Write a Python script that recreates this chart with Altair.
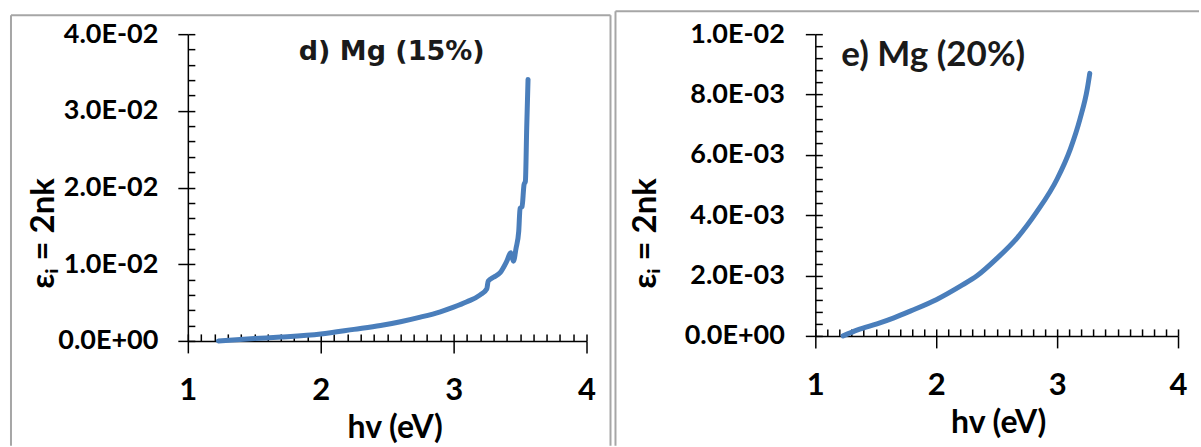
import altair as alt
import pandas as pd

# ---- data ----
# panel d) Mg (15%)
d_hv = [1.23, 1.50, 1.70, 2.00, 2.25, 2.45, 2.60, 2.75, 2.90, 3.00, 3.10, 3.20, 3.25,
        3.26, 3.30, 3.35, 3.40, 3.43, 3.45, 3.47, 3.49, 3.50, 3.515, 3.53, 3.54, 3.55, 3.56]
d_eps = [0.0, 0.0003, 0.0005, 0.0009, 0.0015, 0.0020, 0.0025, 0.0031, 0.0038, 0.0044, 0.0051,
         0.0060, 0.0068, 0.0078, 0.0083, 0.0089, 0.0104, 0.0115, 0.0104, 0.0121, 0.0143,
         0.0173, 0.0175, 0.0204, 0.0208, 0.0278, 0.0341]

# panel e) Mg (20%)
e_hv = [1.23, 1.35, 1.51, 1.65, 1.79, 2.00, 2.20, 2.34, 2.50, 2.67, 2.83, 3.00, 3.11, 3.19, 3.25, 3.27]
e_eps = [0.0, 0.0002, 0.0004, 0.0006, 0.00083, 0.0012, 0.00165, 0.0020, 0.00256, 0.00325,
         0.0041, 0.0052, 0.0062, 0.0072, 0.0082, 0.0087]

x_major = [1, 2, 3, 4]
x_minor = [round(1 + 0.1 * k, 1) for k in range(31)]
d_y_major = [0, 0.01, 0.02, 0.03, 0.04]
d_y_minor = [round(0.002 * k, 4) for k in range(21)]
e_y_major = [0, 0.002, 0.004, 0.006, 0.008, 0.01]
e_y_minor = [round(0.0004 * k, 5) for k in range(26)]

titles = ["d) Mg (15%)", "e) Mg (20%)"]
x_title = "hv (eV)"
y_title = "\u03b5\u1d62 = 2nk"

BLUE = "#4a7ebb"
BORDER = "#a6a6a6"
FONT = "Lato"
LABEL_EXPR = ("datum.value == 0 ? '0.0E+00' : "
              "replace(upper(format(datum.value, '.1e')), 'E-', 'E-0')")


def panel(hv, eps, W, H, ymax, ymaj, ymin, title, tfont, tsize, tx, ty,
          xtitle_x, ytitle_x, ylab_pad, borders):
    df = pd.DataFrame({"hv": hv, "eps": eps, "i": list(range(len(hv)))})
    one = pd.DataFrame({"a": [0]})
    xs = alt.Scale(domain=[1, 4], nice=False, zero=False)
    ys = alt.Scale(domain=[0, ymax], nice=False, zero=False)

    main = alt.Chart(df).mark_line(
        color=BLUE, strokeWidth=5, strokeCap="round", strokeJoin="round",
        interpolate="monotone"
    ).encode(
        x=alt.X("hv:Q", scale=xs, axis=alt.Axis(
            orient="bottom", values=x_major, tickSize=12, labelFontSize=31,
            labelPadding=23, labelFlush=False, labelOverlap=False,
            title=x_title, titleFontSize=32, titleX=xtitle_x, titleY=72,
            titleAlign="center", titleBaseline="top", format="d")),
        y=alt.Y("eps:Q", scale=ys, axis=alt.Axis(
            orient="left", values=ymaj, tickSize=10, labelFontSize=27,
            labelPadding=ylab_pad, labelOverlap=False, labelFlush=False,
            labelExpr=LABEL_EXPR,
            title=y_title, titleFontSize=33, titleAngle=270, titleX=ytitle_x,
            titleY=199, titleAlign="center", titleBaseline="middle")),
        order="i:Q",
    )

    minor = alt.Chart(df).mark_line(opacity=0).encode(
        x=alt.X("hv:Q", scale=xs, axis=alt.Axis(
            orient="top", offset=-H, values=x_minor, tickSize=7, labels=False,
            domain=False, title=None)),
        y=alt.Y("eps:Q", scale=ys, axis=alt.Axis(
            orient="right", offset=-W, values=ymin, tickSize=7, labels=False,
            domain=False, title=None)),
        order="i:Q",
    )

    layers = []
    for (x1, y1, x2, y2) in borders:
        if x1 == x2:
            enc = dict(x=alt.value(x1), y=alt.value(y1), y2=alt.value(y2))
        else:
            enc = dict(x=alt.value(x1), x2=alt.value(x2), y=alt.value(y1))
        layers.append(alt.Chart(one).mark_rule(color=BORDER, strokeWidth=2).encode(**enc))

    txt = alt.Chart(one).mark_text(
        text=title, font=tfont, fontSize=tsize, fontWeight="bold",
        color="#1a1a1a", align="center", baseline="middle"
    ).encode(x=alt.value(tx), y=alt.value(ty))

    layers += [main, minor, txt]
    return alt.layer(*layers).properties(width=W, height=H).resolve_axis(
        x="independent", y="independent")


left = panel(d_hv, d_eps, 399, 307, 0.04, d_y_major, d_y_minor, titles[0],
             "DejaVu Sans", 27, 204, 18, 207, -144, 20,
             [(-177, -19, -177, 412), (-177, -19, 423, -19), (423, -19, 423, 412)])
right = panel(e_hv, e_eps, 363, 302, 0.01, e_y_major, e_y_minor, titles[1],
              FONT, 35, 118, 21, 183, -170, 21,
              [(-200, -23, -200, 412), (-200, -23, 384, -23)])

chart = alt.hconcat(left, right, spacing=229, bounds="flush").properties(
    padding={"left": 9, "top": 9, "right": 0, "bottom": 0}
).configure_view(stroke="transparent").configure_axis(
    labelFont=FONT, titleFont=FONT, labelFontWeight="bold", titleFontWeight="bold",
    labelColor="black", titleColor="black", tickColor="black", domainColor="black",
    domainWidth=1.5, tickWidth=1.5, grid=False
)

chart.save("out.html", embed_options={"renderer": "svg", "actions": False})
